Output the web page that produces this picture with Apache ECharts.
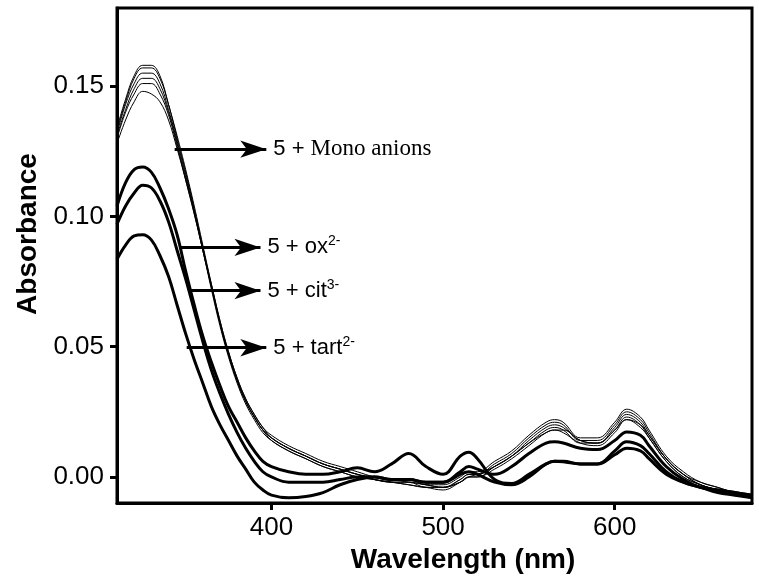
<!DOCTYPE html>
<html>
<head>
<meta charset="utf-8">
<script src="https://cdn.jsdelivr.net/npm/echarts@6/dist/echarts.min.js"></script>
<style>html,body{margin:0;padding:0;background:#fff}#c{width:759px;height:584px}</style>
</head>
<body>
<div id="c"></div>
<script>
const wavelengths = [310,315,320,325,330,335,340,345,350,355,360,365,370,375,380,385,390,395,400,410,420,430,440,450,460,470,480,490,500,510,515,520,530,540,550,560,565,570,580,590,600,607,615,620,630,640,650,660,670,680];

const mono1 = [0.134,0.145,0.154,0.158,0.158,0.154,0.143,0.131,0.118,0.104,0.089,0.074,0.060,0.048,0.038,0.030,0.024,0.019,0.016,0.012,0.009,0.006,0.004,0.002,0.000,-0.001,-0.001,-0.003,-0.003,0.000,0.002,0.002,0.006,0.010,0.016,0.021,0.022,0.021,0.015,0.015,0.021,0.026,0.023,0.018,0.008,0.002,-0.002,-0.004,-0.006,-0.007];
const mono2 = [0.133,0.144,0.153,0.157,0.157,0.153,0.143,0.130,0.117,0.103,0.088,0.074,0.060,0.048,0.038,0.030,0.024,0.019,0.015,0.011,0.008,0.005,0.003,0.001,0.000,-0.001,-0.002,-0.003,-0.004,-0.001,0.001,0.001,0.005,0.009,0.015,0.020,0.021,0.020,0.014,0.014,0.020,0.025,0.022,0.017,0.007,0.001,-0.002,-0.004,-0.006,-0.007];
const mono3 = [0.132,0.143,0.151,0.155,0.155,0.151,0.141,0.129,0.116,0.102,0.088,0.073,0.059,0.047,0.037,0.029,0.023,0.018,0.015,0.011,0.008,0.005,0.003,0.001,-0.001,-0.002,-0.002,-0.003,-0.004,-0.001,0.001,0.001,0.004,0.008,0.014,0.019,0.020,0.019,0.014,0.013,0.019,0.024,0.021,0.016,0.007,0.001,-0.003,-0.005,-0.007,-0.008];
const mono4 = [0.131,0.141,0.149,0.153,0.153,0.149,0.140,0.128,0.115,0.102,0.087,0.073,0.059,0.047,0.037,0.029,0.023,0.018,0.015,0.011,0.008,0.005,0.003,0.001,-0.001,-0.002,-0.003,-0.004,-0.004,-0.002,0.000,0.000,0.004,0.008,0.013,0.018,0.019,0.018,0.013,0.013,0.018,0.023,0.020,0.015,0.006,0.000,-0.003,-0.005,-0.007,-0.008];
const mono5 = [0.130,0.140,0.147,0.151,0.151,0.147,0.139,0.127,0.114,0.101,0.087,0.072,0.058,0.046,0.036,0.028,0.022,0.017,0.014,0.010,0.007,0.004,0.002,0.000,-0.001,-0.002,-0.003,-0.004,-0.005,-0.002,0.000,0.000,0.003,0.007,0.012,0.017,0.018,0.017,0.013,0.012,0.017,0.022,0.019,0.015,0.006,0.000,-0.003,-0.005,-0.007,-0.008];
const mono6 = [0.128,0.137,0.144,0.148,0.147,0.144,0.137,0.126,0.114,0.101,0.087,0.073,0.059,0.047,0.037,0.029,0.023,0.018,0.014,0.010,0.007,0.004,0.002,0.000,-0.001,-0.002,-0.002,-0.004,-0.004,-0.002,0.000,0.001,0.004,0.008,0.013,0.017,0.018,0.018,0.014,0.013,0.018,0.022,0.020,0.016,0.007,0.001,-0.003,-0.005,-0.007,-0.008];
const ox   = [0.104,0.113,0.118,0.119,0.117,0.111,0.103,0.093,0.079,0.066,0.054,0.044,0.035,0.027,0.021,0.015,0.010,0.006,0.004,0.002,0.001,0.001,0.002,0.0035,0.002,0.005,0.009,0.004,0.001,0.008,0.0095,0.007,-0.001,-0.0025,0.001,0.005,0.006,0.0058,0.005,0.005,0.0085,0.011,0.010,0.007,0.001,-0.002,-0.004,-0.005,-0.006,-0.007];
const cit  = [0.097,0.104,0.109,0.112,0.111,0.106,0.098,0.087,0.076,0.064,0.052,0.041,0.032,0.024,0.017,0.011,0.006,0.002,0.000,-0.002,-0.002,-0.002,-0.001,0.000,0.000,-0.001,-0.001,-0.002,-0.002,0.002,0.004,0.003,0.001,0.004,0.009,0.013,0.0135,0.013,0.011,0.0105,0.014,0.0173,0.016,0.012,0.004,-0.001,-0.004,-0.005,-0.006,-0.007];
const tart = [0.0835,0.089,0.0925,0.093,0.091,0.085,0.077,0.066,0.055,0.045,0.036,0.027,0.020,0.014,0.008,0.003,-0.002,-0.005,-0.007,-0.008,-0.0075,-0.006,-0.003,-0.001,0.000,-0.001,-0.001,-0.002,-0.002,0.001,0.002,0.001,-0.002,-0.003,0.000,0.005,0.006,0.006,0.005,0.005,0.010,0.0135,0.012,0.009,0.002,-0.002,-0.004,-0.006,-0.007,-0.008];

const xTicks = [400,500,600];
const yTicks = [0,0.05,0.10,0.15];

// annotation arrows: [startX, endX, y] in data units
const arrowMono = [343.6, 397, 0.1258];
const arrowOx   = [347, 393.6, 0.0881];
const arrowCit  = [351.7, 393.6, 0.0715];
const arrowTart = [350.6, 397, 0.0496];

const chart = echarts.init(document.getElementById('c'), null, {renderer:'canvas'});
const toData = arr => wavelengths.map((w,i)=>[w, arr[i]]);
const sans = 'Arial, "Liberation Sans", sans-serif';
const serif = '"Times New Roman", "Liberation Serif", serif';

function thin(arr){
  return {type:'line', data:toData(arr), showSymbol:false, smooth:0.4,
    lineStyle:{color:'#000', width:1}, silent:true};
}
function thick(arr){
  return {type:'line', data:toData(arr), showSymbol:false, smooth:0.4,
    lineStyle:{color:'#000', width:3}, silent:true};
}
function arrow(a, fmt){
  return [
    {coord:[a[0], a[2]], symbol:'none'},
    {coord:[a[1], a[2]], symbol:'arrow', symbolSize:[13,26],
     label:{show:true, position:'end', distance:7, formatter:fmt,
       rich:{
         a:{fontFamily:sans, fontSize:22, color:'#000', lineHeight:26},
         b:{fontFamily:serif, fontSize:23, color:'#000', lineHeight:26},
         s:{fontFamily:sans, fontSize:14, color:'#000', verticalAlign:'top', lineHeight:26}
       }}}
  ];
}

const tartSeries = thick(tart);
tartSeries.markLine = {
  silent:true, animation:false, symbol:['none','arrow'],
  lineStyle:{color:'#000', width:3, type:'solid'},
  data:[
    arrow(arrowMono, '{a|5 + }{b|Mono anions}'),
    arrow(arrowOx, '{a|5 + ox}{s|2-}'),
    arrow(arrowCit, '{a|5 + cit}{s|3-}'),
    arrow(arrowTart, '{a|5 + tart}{s|2-}')
  ]
};

chart.setOption({
  animation:false,
  backgroundColor:'#fff',
  grid:{left:117, right:7, top:8, bottom:81, show:true, borderColor:'#000', borderWidth:3, backgroundColor:'transparent'},
  xAxis:{type:'value', min:310, max:680,
    axisLine:{show:true, onZero:false, lineStyle:{color:'#000', width:3}},
    axisTick:{show:true, inside:false, length:7, lineStyle:{color:'#000', width:3}, customValues:xTicks},
    axisLabel:{show:true, customValues:xTicks, margin:12, fontFamily:sans, fontSize:26, color:'#000'},
    splitLine:{show:false}},
  yAxis:{type:'value', min:-0.01, max:0.18,
    axisLine:{show:true, onZero:false, lineStyle:{color:'#000', width:3}},
    axisTick:{show:true, inside:false, length:7, lineStyle:{color:'#000', width:3}, customValues:yTicks},
    axisLabel:{show:true, customValues:yTicks, margin:13, fontFamily:sans, fontSize:26, color:'#000',
      formatter:v=>v.toFixed(2)},
    splitLine:{show:false}},
  graphic:[
    {type:'text', x:28, y:234, rotation:Math.PI/2,
     style:{text:'Absorbance', fontFamily:sans, fontSize:28, fontWeight:'bold', fill:'#000', align:'center', verticalAlign:'middle'}},
    {type:'text', x:463, y:560,
     style:{text:'Wavelength (nm)', fontFamily:sans, fontSize:28, fontWeight:'bold', fill:'#000', align:'center', verticalAlign:'middle'}}
  ],
  series:[thin(mono1), thin(mono2), thin(mono3), thin(mono4), thin(mono5), thin(mono6),
          thick(ox), thick(cit), tartSeries]
});
</script>
</body>
</html>
